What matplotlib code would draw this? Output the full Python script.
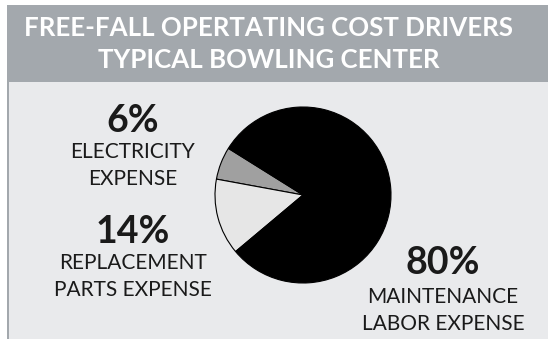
import matplotlib
matplotlib.use("Agg")
import matplotlib.pyplot as plt
from matplotlib.patches import Rectangle

title_lines = ["FREE-FALL OPERTATING COST DRIVERS", "TYPICAL BOWLING CENTER"]
labels = ["ELECTRICITY\nEXPENSE", "REPLACEMENT\nPARTS EXPENSE", "MAINTENANCE\nLABOR EXPENSE"]
pct_labels = ["6%", "14%", "80%"]
values = [6, 14, 80]
colors = ["#a0a0a0", "#e6e6e6", "#000000"]

W, H = 548, 339
fig = plt.figure(figsize=(W / 100, H / 100), dpi=100)
fig.patch.set_facecolor("white")

def fx(x):
    return x / W

def fy(y):
    return 1 - y / H

# body background
fig.patches.append(Rectangle((fx(8), 0), 1 - fx(8), fy(82), transform=fig.transFigure,
                             facecolor="#e9eaec", edgecolor="none", zorder=0))
# left border
fig.patches.append(Rectangle((fx(7), 0), fx(2.2), fy(82), transform=fig.transFigure,
                             facecolor="#a3a8ad", edgecolor="none", zorder=1))
# header band
fig.patches.append(Rectangle((fx(7), fy(82)), 1 - fx(7), fy(5) - fy(82), transform=fig.transFigure,
                             facecolor="#a3a8ad", edgecolor="none", zorder=1))

font = "Lato"
fig.text(fx(269), fy(28), title_lines[0], ha="center", va="center", color="white",
         fontsize=18.6, fontweight="bold", family=font, zorder=6)
fig.text(fx(269), fy(60), title_lines[1], ha="center", va="center", color="white",
         fontsize=18.6, fontweight="bold", family=font, zorder=6)

# pie
ax = fig.add_axes([fx(215), fy(283), fx(176), 176 / H])
ax.set_zorder(5)
ax.patch.set_visible(False)
ax.pie(values, colors=colors, startangle=148, counterclock=True, radius=1,
       wedgeprops=dict(edgecolor="black", linewidth=0.8))
ax.set_xlim(-1.0, 1.0)
ax.set_ylim(-1.0, 1.0)
ax.set_aspect("equal")
ax.axis("off")

txt = "#1a1a1a"
pos = [(133, 121, 152, 179), (133, 232, 263, 290), (443, 263, 297, 324)]
for (x, yp, y1, y2), p, lab in zip(pos, pct_labels, labels):
    fig.text(fx(x), fy(yp), p, ha="center", va="center", color=txt, fontsize=27,
             fontweight="bold", family=font, zorder=6)
    l1, l2 = lab.split("\n")
    fig.text(fx(x), fy(y1), l1, ha="center", va="center", color=txt, fontsize=15,
             family=font, zorder=6)
    fig.text(fx(x), fy(y2), l2, ha="center", va="center", color=txt, fontsize=15,
             family=font, zorder=6)

fig.savefig("out.png", dpi=100, facecolor=fig.get_facecolor())
